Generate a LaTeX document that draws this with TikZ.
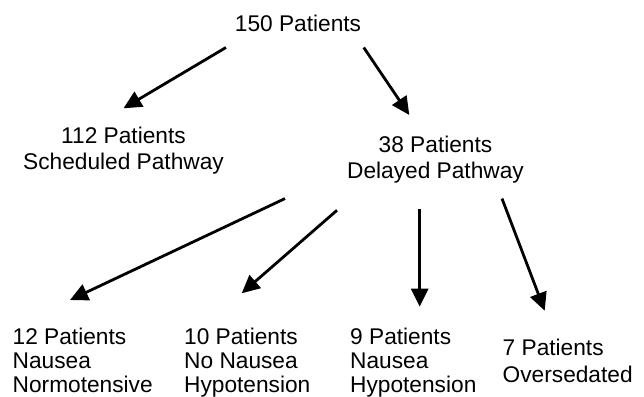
\documentclass[tikz,border=0pt]{standalone}
\usepackage{fontspec}
\setmainfont{Liberation Sans}
\usetikzlibrary{arrows.meta}
\tikzset{
	group/.style={inner sep=0, font=\fontsize{22.7}{26}\selectfont, align=center, anchor=north},
	outcome/.style={inner sep=0, font=\fontsize{22.7}{24}\selectfont, align=left, anchor=north west},
	flow/.style={line width=2.8pt, -{Triangle[length=18pt,width=17pt]}}
}

\begin{document}
\begin{tikzpicture}[x=1pt, y=-1pt]
			%%%%% START %%%%%
			\useasboundingbox (0, 0) rectangle (644, 396);
			
			\node[group] (all) at (298, 15) {150 Patients};
			\node[group] (sched) at (123.5, 126.7) {112 Patients\\Scheduled Pathway};
			\node[group] (delay) at (435.5, 136) {38 Patients\\Delayed Pathway};
			
			\node[outcome] (nausea) at (12.5, 328) {12 Patients\\Nausea\\Normotensive};
			\node[outcome] (hypo) at (184, 328) {10 Patients\\No Nausea\\Hypotension};
			\node[outcome] (both) at (350, 328) {9 Patients\\Nausea\\Hypotension};
			\node[outcome, font=\fontsize{22.7}{26.5}\selectfont] (sedated) at (502.5, 339) {7 Patients\\Oversedated};
			
			\draw[flow] ([shift={(-72, 15.4)}]all.south) -- ([shift={(0, -18.4)}]sched.north);
			\draw[flow] ([shift={(65.7, 15.4)}]all.south) -- ([shift={(-26.2, -21)}]delay.north);
			
			\draw[flow] ([shift={(-150.5, 15)}]delay.south) -- ([shift={(57.5, -28)}]nausea.north west);
			\draw[flow] ([shift={(-98.5, 26.7)}]delay.south) -- ([shift={(57.7, -34.7)}]hypo.north west);
			\draw[flow] ([shift={(-15.8, 25)}]delay.south) -- ([shift={(69.7, -21.3)}]both.north west);
			\draw[flow] ([shift={(66.5, 15)}]delay.south) -- ([shift={(42.2, -28.3)}]sedated.north west);
			
			%%%%% END %%%%%
\end{tikzpicture}
\end{document}
